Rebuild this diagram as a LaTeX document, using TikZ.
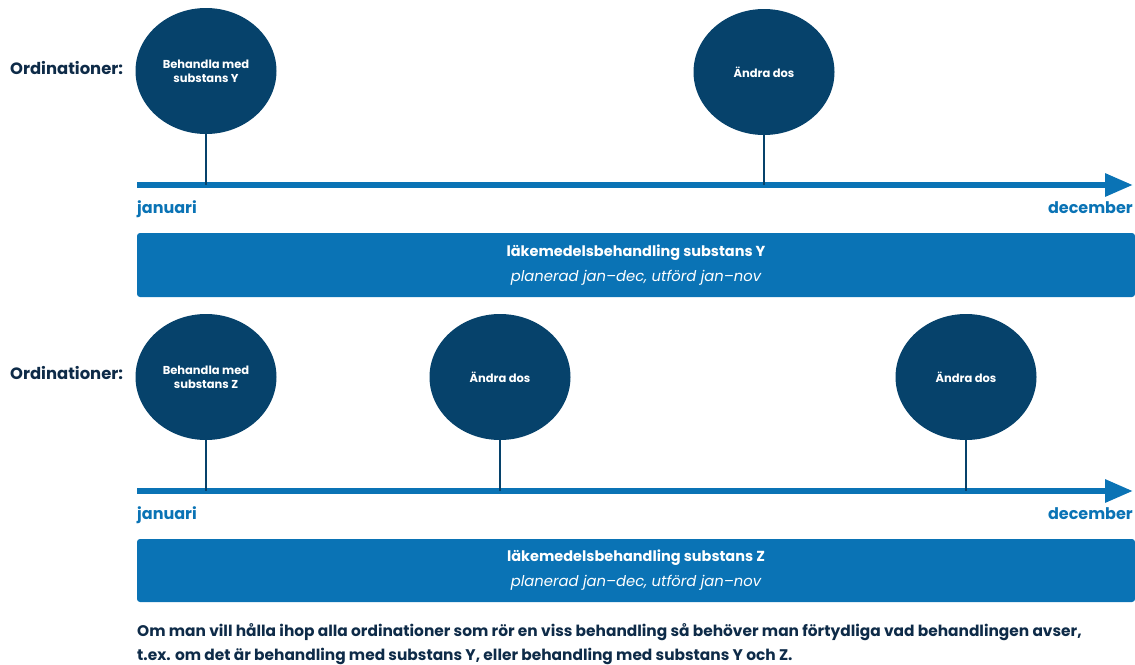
\documentclass[tikz,border=0pt]{standalone}
\usepackage{fontspec}
\setmainfont{Poppins}
\usetikzlibrary{arrows.meta,shapes.geometric}
\definecolor{navy}{HTML}{06426B}
\definecolor{ink}{HTML}{0E2B48}
\definecolor{mblue}{HTML}{0A73B5}
\tikzset{
  event/.style={ellipse, fill=navy, draw=none, minimum width=141pt, minimum height=126pt, inner sep=0pt,
    text=white, align=center, font=\fontsize{11.5}{14}\selectfont\bfseries},
  stem/.style={draw=navy, line width=2pt},
  axis/.style={draw=mblue, line width=6pt, -{Triangle[length=28pt,width=22pt]}},
  monthlbl/.style={text=mblue, font=\fontsize{16}{18}\selectfont\bfseries, inner sep=0pt},
  ordlbl/.style={text=ink, font=\fontsize{16.4}{18}\selectfont\bfseries, inner sep=0pt, anchor=west},
  bar/.style={fill=mblue, rounded corners=3pt, draw=none},
  bartitle/.style={text=white, font=\fontsize{14.5}{18}\selectfont\bfseries, inner sep=0pt},
  barsub/.style={text=white, font=\fontsize{14.8}{18}\selectfont\itshape, inner sep=0pt},
  foot/.style={text=ink, font=\fontsize{15.4}{18}\selectfont\bfseries, inner sep=0pt, anchor=west}
}
\begin{document}
\begin{tikzpicture}[x=1pt,y=-1pt]
\useasboundingbox (0,0) rectangle (1135,664);
% ---- section Y ----
\node[ordlbl] (ordY) at (10,68) {Ordinationer:};
\node[event] (eY1) at (206,71) {Behandla med\\substans Y};
\node[event] (eY2) at (764,72) {Ändra dos};
\coordinate (axYs) at (137,185);
\coordinate (axYe) at (1133,185);
\coordinate (tY1) at (206,185);
\coordinate (tY2) at (764,185);
\draw[axis] (axYs) -- (axYe);
\draw[stem] (eY1.south) -- (tY1);
\draw[stem] (eY2.south) -- (tY2);
\node[monthlbl, anchor=west] (janY) at (137,209) {januari};
\node[monthlbl, anchor=east] (decY) at (1133,208) {december};
\path[bar] (137,233) rectangle (1135,297);
\node[bartitle] (btY) at (636,253) {läkemedelsbehandling substans Y};
\node[barsub] (bsY) at (636,278) {planerad jan–dec, utförd jan–nov};
% ---- section Z ----
\node[ordlbl] (ordZ) at (10,373) {Ordinationer:};
\node[event] (eZ1) at (206,377) {Behandla med\\substans Z};
\node[event] (eZ2) at (500,377) {Ändra dos};
\node[event] (eZ3) at (966,377) {Ändra dos};
\coordinate (axZs) at (137,491);
\coordinate (axZe) at (1133,491);
\coordinate (tZ1) at (206,491);
\coordinate (tZ2) at (500,491);
\coordinate (tZ3) at (966,491);
\draw[axis] (axZs) -- (axZe);
\draw[stem] (eZ1.south) -- (tZ1);
\draw[stem] (eZ2.south) -- (tZ2);
\draw[stem] (eZ3.south) -- (tZ3);
\node[monthlbl, anchor=west] (janZ) at (137,515) {januari};
\node[monthlbl, anchor=east] (decZ) at (1133,514) {december};
\path[bar] (137,539) rectangle (1135,602);
\node[bartitle] (btZ) at (636,558) {läkemedelsbehandling substans Z};
\node[barsub] (bsZ) at (636,583) {planerad jan–dec, utförd jan–nov};
% ---- footer ----
\node[foot] (f1) at (137,632) {Om man vill hålla ihop alla ordinationer som rör en viss behandling så behöver man förtydliga vad behandlingen avser,};
\node[foot] (f2) at (137,656) {t.ex. om det är behandling med substans Y, eller behandling med substans Y och Z.};
\end{tikzpicture}
\end{document}
